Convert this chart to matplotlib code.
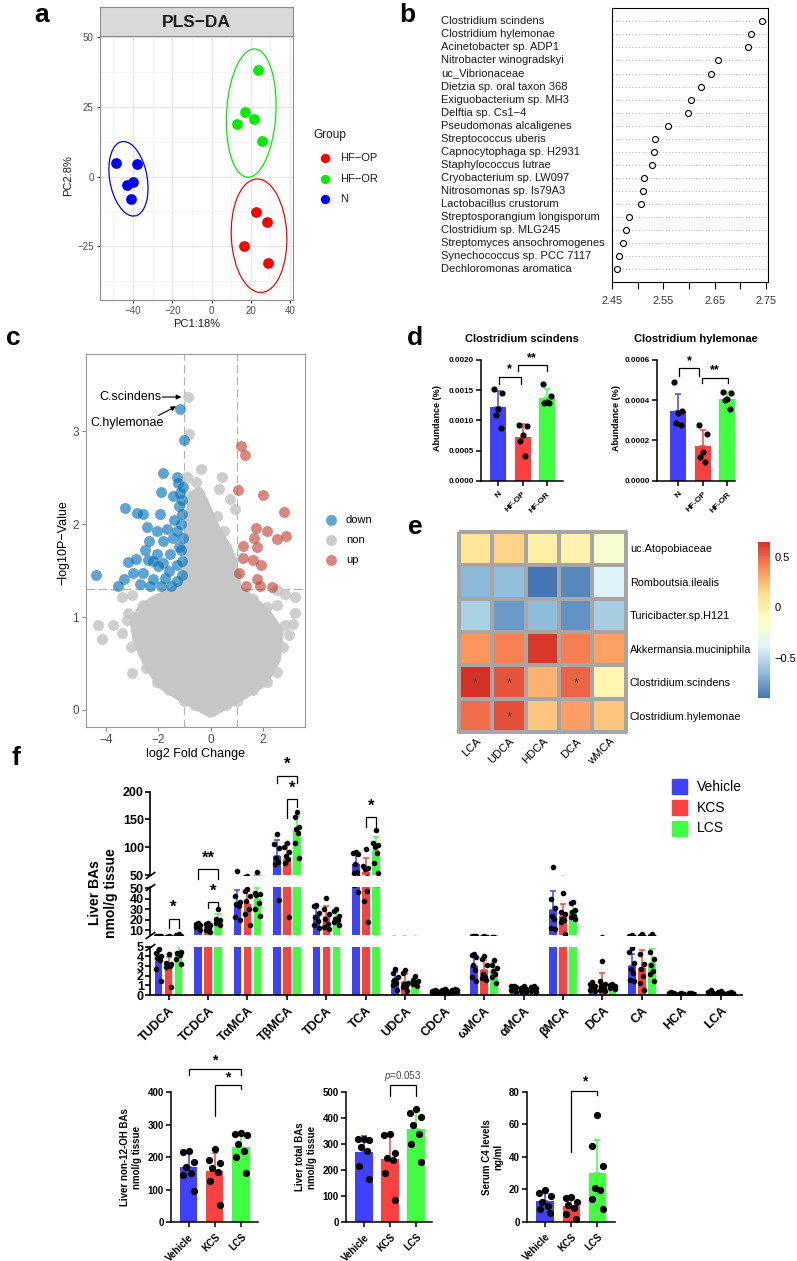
import numpy as np
import matplotlib
matplotlib.use('Agg')
import matplotlib.pyplot as plt
from matplotlib.patches import Ellipse, Rectangle, Polygon
from matplotlib.colors import LinearSegmentedColormap
from matplotlib.transforms import blended_transform_factory

plt.rcParams['font.family'] = ['Liberation Sans', 'DejaVu Sans']
plt.rcParams['mathtext.fontset'] = 'custom'
plt.rcParams['mathtext.it'] = 'Liberation Sans:italic'
plt.rcParams['mathtext.rm'] = 'Liberation Sans'

# ---------------- data: panel a (PLS-DA scores) ----------------
pls_groups = ['HF−OP', 'HF−OR', 'N']
pls_colors = ['#FF0000', '#00EE00', '#0000FF']
hfop_pc1 = [22.8, 28.4, 16.6, 29.0]
hfop_pc2 = [-12.7, -16.2, -25.0, -31.0]
hfor_pc1 = [23.9, 16.8, 21.4, 13.2, 25.8]
hfor_pc2 = [38.2, 23.2, 20.8, 19.0, 12.9]
n_pc1 = [-48.8, -38.1, -43.2, -40.2, -41.2]
n_pc2 = [4.75, 4.5, -2.9, -2.0, -8.2]

# ---------------- data: panel b (importance scores) ----------------
b_taxa = ['Clostridium scindens', 'Clostridium hylemonae', 'Acinetobacter sp. ADP1',
          'Nitrobacter winogradskyi', 'uc_Vibrionaceae', 'Dietzia sp. oral taxon 368',
          'Exiguobacterium sp. MH3', 'Delftia sp. Cs1−4', 'Pseudomonas alcaligenes',
          'Streptococcus uberis', 'Capnocytophaga sp. H2931', 'Staphylococcus lutrae',
          'Cryobacterium sp. LW097', 'Nitrosomonas sp. Is79A3', 'Lactobacillus crustorum',
          'Streptosporangium longisporum', 'Clostridium sp. MLG245',
          'Streptomyces ansochromogenes', 'Synechococcus sp. PCC 7117', 'Dechloromonas aromatica']
b_score = [2.742, 2.720, 2.715, 2.656, 2.643, 2.623, 2.604, 2.598, 2.558, 2.533,
           2.531, 2.528, 2.512, 2.510, 2.506, 2.483, 2.477, 2.472, 2.464, 2.460]

# ---------------- data: panel c (volcano) ----------------
down_fc = [-1.17, -1.02, -4.38, -3.54, -3.26, -2.82, -2.57, -1.83, -1.91, -1.30, -1.24, -1.45,
           -1.17, -1.11, -1.94, -1.11, -2.44, -2.06, -1.68, -1.30, -2.34, -1.81, -1.45, -2.51,
           -2.06, -1.55, -1.15, -3.15, -2.85, -2.38, -1.81, -1.30, -1.10, -3.31, -2.95, -2.57,
           -2.70, -2.19, -1.74, -1.30, -1.10, -2.30, -1.90, -1.50, -2.00, -1.60, -1.15, -1.05,
           -1.20, -2.20, -1.40, -1.05, -1.20]
down_p = [3.24, 2.91, 1.45, 1.34, 2.17, 2.12, 2.11, 2.55, 2.35, 2.51, 2.44, 2.30,
          2.34, 2.26, 2.11, 2.11, 1.97, 1.93, 1.95, 1.93, 1.82, 1.82, 1.85, 1.72,
          1.68, 1.68, 1.72, 1.59, 1.63, 1.61, 1.58, 1.56, 1.60, 1.41, 1.47, 1.47,
          1.36, 1.41, 1.42, 1.39, 1.45, 1.33, 1.33, 1.33, 1.55, 1.50, 2.00, 1.85,
          1.75, 1.60, 2.05, 2.40, 2.20]
up_fc = [1.15, 1.31, 1.05, 2.01, 2.80, 1.72, 2.14, 2.87, 2.54, 1.65, 1.76, 1.22, 1.24,
         1.63, 1.91, 1.09, 1.76, 1.34, 1.88, 2.33]
up_p = [2.84, 2.75, 2.37, 2.32, 2.13, 1.96, 1.93, 1.87, 1.84, 1.85, 1.75, 1.77, 1.64,
        1.61, 1.56, 1.48, 1.41, 1.34, 1.33, 1.32]
non_fc = [-0.88, -0.82, -0.38, 0.42, -0.92, -0.56, 0.33, 0.74, 0.94, 0.25, 0.51, -0.75,
          -0.70, -0.50, -0.30, 0.00, 0.20, 0.60, 0.85, 0.95, -0.60, -0.40, 0.10, 0.50,
          0.75, -0.85, 2.52, 3.22, 2.84, -3.40, -3.02, -2.57, -2.19, -3.15, -2.44, 1.63,
          2.14, 2.52, 3.22, -4.29, -4.14, -3.72, -3.40, -3.21, -3.04, -3.02, -2.76, -2.47,
          -2.57, -2.06, -2.57, 2.14, 2.52, 2.77, 3.00, 3.15, 2.84, 2.39, 2.01, 2.14,
          -1.60, -1.00, 1.00, 1.60, -0.60, 0.60]
non_p = [3.37, 2.97, 2.60, 2.51, 2.51, 2.45, 2.38, 2.27, 2.16, 2.09, 1.93, 2.30,
         2.15, 2.20, 2.00, 1.90, 1.80, 1.75, 1.60, 1.45, 1.90, 1.75, 1.60, 1.50,
         1.40, 1.70, 1.29, 1.22, 1.25, 1.22, 1.24, 1.13, 1.17, 1.04, 1.04, 1.20,
         1.11, 1.13, 1.04, 0.91, 0.76, 0.91, 0.83, 0.97, 0.68, 0.40, 0.99, 0.45,
         0.61, 0.30, 0.80, 0.30, 0.41, 0.68, 0.81, 0.93, 0.91, 0.61, 1.00, 0.83,
         0.22, 0.10, 0.10, 0.22, 0.05, 0.05]
# envelope of the dense non-significant cloud
non_core_fc = [0.0, -1.0, -1.9, -2.4, -2.8, -2.9, -2.6, -2.0, -1.4, -1.0, -0.85, -0.8, -0.7,
               -0.45, -0.2, 0.1, 0.4, 0.7, 0.9, 1.0, 1.5, 2.1, 2.6, 2.5, 2.0, 1.0]
non_core_p = [-0.03, 0.12, 0.28, 0.5, 0.75, 0.95, 1.1, 1.2, 1.28, 1.35, 1.6, 2.0, 2.3,
              2.35, 2.2, 2.0, 1.85, 1.7, 1.5, 1.3, 1.2, 1.05, 0.85, 0.55, 0.3, 0.12]

# ---------------- data: panel d ----------------
d_groups = ['N', 'HF-OP', 'HF-OR']
scin_vals = [[0.00152, 0.00146, 0.00119, 0.00109, 0.00088],
             [0.00093, 0.00091, 0.00076, 0.00065, 0.00041],
             [0.00161, 0.00141, 0.00130, 0.00129, 0.00128]]
hyle_vals = [[0.000490, 0.000347, 0.000335, 0.000289, 0.000277],
             [0.000278, 0.000232, 0.000145, 0.000118, 0.000095],
             [0.000443, 0.000435, 0.000405, 0.000400, 0.000355]]

# ---------------- data: panel e (correlation heatmap) ----------------
e_taxa = ['uc.Atopobiaceae', 'Romboutsia.ilealis', 'Turicibacter.sp.H121',
          'Akkermansia.muciniphila', 'Clostridium.scindens', 'Clostridium.hylemonae']
e_bas = ['LCA', 'UDCA', 'HDCA', 'DCA', 'wMCA']
e_corr = np.array([[0.10, 0.17, 0.00, -0.02, -0.20],
                   [-0.66, -0.64, -0.90, -0.83, -0.39],
                   [-0.56, -0.77, -0.65, -0.80, -0.57],
                   [0.36, 0.42, 0.63, 0.43, 0.33],
                   [0.65, 0.55, 0.28, 0.50, -0.05],
                   [0.48, 0.56, 0.22, 0.34, 0.22]])
e_sig = [(4, 0), (4, 1), (4, 3), (5, 1)]

# ---------------- data: panel f ----------------
f_groups = ['Vehicle', 'KCS', 'LCS']
f_colors = ['#4040FF', '#FF4040', '#40FF40']
f_bas = ['TUDCA', 'TCDCA', 'TαMCA', 'TβMCA', 'TDCA', 'TCA', 'UDCA', 'CDCA',
         'ωMCA', 'αMCA', 'βMCA', 'DCA', 'CA', 'HCA', 'LCA']
veh_pts = [[4.8, 4.3, 4.0, 3.8, 3.6, 2.7, 1.5], [16.5, 15.8, 15.2, 14.6, 14.0, 13.2, 10.0],
           [58, 42, 37, 35, 33, 22, 20], [124, 106, 98, 80, 74, 70, 39],
           [34, 33, 26, 22, 19, 15, 12], [91, 89, 87, 70, 55, 53, 46],
           [2.7, 2.3, 1.9, 1.6, 1.2, 1.0, 0.5], [0.55, 0.45, 0.4, 0.35, 0.3, 0.25, 0.2],
           [4.2, 4.1, 3.9, 3.1, 2.6, 1.9, 1.4], [0.9, 0.9, 0.8, 0.8, 0.7, 0.5, 0.3],
           [64, 40, 31, 23, 21, 12, 11], [1.3, 1.1, 0.9, 0.8, 0.6, 0.5, 0.4],
           [4.9, 4.4, 3.3, 2.7, 2.3, 1.6, 1.5], [0.3, 0.2, 0.2, 0.15, 0.1, 0.1, 0.1],
           [0.5, 0.3, 0.2, 0.2, 0.15, 0.1, 0.1]]
kcs_pts = [[4.2, 3.3, 3.2, 3.1, 3.0, 2.9, 0.8], [17.0, 16.0, 14.5, 13.0, 12.0, 10.5, 8.0],
           [49, 47, 42, 38, 30, 25, 15], [108, 100, 92, 84, 78, 71, 22],
           [41, 30, 25, 21, 16, 13, 11], [97, 66, 63, 60, 47, 38, 18],
           [2.6, 2.3, 1.2, 1.1, 0.9, 0.8, 0.4], [0.6, 0.5, 0.4, 0.35, 0.3, 0.2, 0.15],
           [4.0, 3.7, 3.1, 2.2, 1.9, 1.8, 1.6], [0.9, 0.7, 0.6, 0.5, 0.5, 0.4, 0.3],
           [45, 27, 25, 21, 20, 18, 6], [3.5, 1.5, 1.1, 0.9, 0.7, 0.5, 0.4],
           [5.8, 4.2, 3.2, 2.7, 2.0, 1.2, 0.5], [0.2, 0.15, 0.1, 0.1, 0.1, 0.1, 0.05],
           [0.4, 0.3, 0.25, 0.2, 0.15, 0.1, 0.1]]
lcs_pts = [[5.8, 5.7, 4.4, 4.3, 4.1, 3.7, 3.2], [30.5, 21.0, 19.5, 18.5, 17.5, 16.5, 15.0],
           [55, 45, 44, 43, 36, 30, 23], [163, 155, 137, 132, 126, 107, 80],
           [30, 28, 23, 21, 20, 18, 15], [131, 108, 104, 100, 89, 71, 54],
           [2.0, 1.6, 1.4, 1.3, 1.2, 1.1, 0.9], [0.65, 0.55, 0.5, 0.4, 0.4, 0.35, 0.3],
           [3.6, 3.1, 2.8, 2.5, 2.2, 1.9, 1.2], [0.9, 0.8, 0.7, 0.6, 0.5, 0.4, 0.3],
           [37, 36, 29, 27, 23, 22, 21], [1.1, 1.0, 0.9, 0.9, 0.8, 0.7, 0.6],
           [5.8, 4.4, 3.7, 3.1, 2.5, 2.2, 1.4], [0.25, 0.2, 0.15, 0.1, 0.1, 0.1, 0.05],
           [0.3, 0.25, 0.2, 0.2, 0.15, 0.1, 0.1]]

non12oh = [[220, 215, 185, 170, 150, 145, 96],
           [225, 192, 183, 166, 155, 128, 53],
           [273, 271, 268, 240, 218, 200, 152]]
total_bas = [[320, 318, 316, 290, 275, 215, 165],
             [339, 334, 265, 246, 240, 188, 86],
             [435, 420, 405, 372, 340, 300, 230]]
serum_c4 = [[19.5, 18.0, 16.0, 12.0, 9.5, 8.0, 5.6],
            [15.4, 14.6, 12.0, 10.5, 8.2, 5.0, 1.5],
            [66.0, 46.6, 34.6, 21.0, 19.5, 13.8, 7.6]]

# ---------------- figure helpers ----------------
W, H = 797, 1261
fig = plt.figure(figsize=(W / 100, H / 100), dpi=100)


def px_axes(x0, y0, x1, y1, **kw):
    return fig.add_axes([x0 / W, 1 - y1 / H, (x1 - x0) / W, (y1 - y0) / H], **kw)


JIT7 = np.array([0.0, -0.32, 0.32, -0.16, 0.16, -0.3, 0.3])
JIT5 = np.array([-0.25, 0.25, 0.0, -0.15, 0.15])


def prism_bars(ax, pos, groups, colors, width, ms, jit, clip=True):
    lo, hi = ax.get_ylim()
    for x, vals, c in zip(pos, groups, colors):
        vals = np.asarray(vals, dtype=float)
        m, sd = vals.mean(), vals.std(ddof=1)
        ax.bar(x, m, width, color=c, zorder=1)
        if m + sd > lo:
            ax.errorbar(x, m, yerr=[[0], [sd]], ecolor=c, elinewidth=1.1, capsize=2,
                        capthick=1.1, zorder=2, fmt='none')
        ax.plot(x + jit[:len(vals)] * width, vals, 'o', color='black', ms=ms,
                zorder=3, clip_on=clip)


def prism_style(ax, lw=1.2):
    for s in ['top', 'right']:
        ax.spines[s].set_visible(False)
    for s in ['left', 'bottom']:
        ax.spines[s].set_linewidth(lw)
    ax.tick_params(width=lw, length=3.5, direction='out')


def bracket(ax, x0, x1, ytop, yl, yr, label, ty, size=9, color='black', weight='bold'):
    ax.plot([x0, x0, x1, x1], [yl, ytop, ytop, yr], color='black', lw=0.9, clip_on=False)
    ax.text((x0 + x1) / 2, ty, label, ha='center', va='center', fontsize=size,
            color=color, fontweight=weight, clip_on=False)


# ================= panel a =================
axa = px_axes(100, 36, 293, 300)
axa.set_xlim(-56.8, 41.5)
axa.set_ylim(-44.3, 50.5)
axa.set_xticks([-40, -20, 0, 20, 40])
axa.set_yticks([-25, 0, 25, 50])
axa.set_xticks([-50, -30, -10, 10, 30], minor=True)
axa.set_yticks([-37.5, -12.5, 12.5, 37.5], minor=True)
axa.grid(True, which='major', color='#E6E6E6', lw=0.9)
axa.grid(True, which='minor', color='#F3F3F3', lw=0.6)
axa.set_axisbelow(True)
for s in axa.spines.values():
    s.set_color('#8C8C8C')
    s.set_linewidth(0.8)
axa.tick_params(which='major', length=2.5, color='#333333', labelsize=7,
                labelcolor='#4D4D4D', pad=2)
axa.tick_params(which='minor', length=0)
for xs, ys, c in zip([hfop_pc1, hfor_pc1, n_pc1], [hfop_pc2, hfor_pc2, n_pc2], pls_colors):
    axa.scatter(xs, ys, s=60, color=c, zorder=3, linewidths=0)
    cov = np.cov(xs, ys)
    vals, vecs = np.linalg.eigh(cov)
    ang = np.degrees(np.arctan2(vecs[1, 1], vecs[0, 1]))
    axa.add_patch(Ellipse((np.mean(xs), np.mean(ys)), 2 * 2.45 * np.sqrt(vals[1]),
                          2 * 2.45 * np.sqrt(vals[0]), angle=ang, fill=False,
                          ec=c, lw=0.9, zorder=2))
strip = px_axes(100, 7, 293, 36)
strip.set_facecolor('#D9D9D9')
strip.set_xticks([])
strip.set_yticks([])
for s in strip.spines.values():
    s.set_color('#8C8C8C')
    s.set_linewidth(0.8)
strip.text(0.5, 0.47, 'PLS−DA', ha='center', va='center', fontsize=12.5,
           fontweight='bold', color='#1A1A1A', transform=strip.transAxes)

# ================= panel b =================
axb = px_axes(611.7, 8.3, 768, 282.3)
rows = np.arange(1, len(b_taxa) + 1)
for r in rows:
    axb.axhline(r, color='#9A9A9A', ls=(0, (1, 3)), lw=0.6, zorder=1)
axb.plot(b_score, rows, 'o', mfc='white', mec='black', ms=4.3, mew=0.8, ls='none', zorder=2)
axb.set_ylim(21, 0)
axb.set_xlim(2.449, 2.754)
axb.set_yticks([])
axb.set_xticks([2.45, 2.50, 2.55, 2.60, 2.65, 2.70, 2.75])
axb.set_xticklabels(['2.45', '', '2.55', '', '2.65', '', '2.75'])
axb.tick_params(axis='x', length=5, width=0.8, labelsize=7.8, pad=5, labelcolor='#333333')
for s in axb.spines.values():
    s.set_linewidth(0.8)
tb = blended_transform_factory(axb.transAxes, axb.transData)
for r, name in zip(rows, b_taxa):
    axb.text(-1.092, r, name, transform=tb, ha='left', va='center', fontsize=8,
             color='#1A1A1A')

# ================= panel c =================
axc = px_axes(86, 354.3, 305, 726.7)
axc.set_xlim(-4.76, 3.6)
axc.set_ylim(-0.18, 3.83)
for xv in (-1, 1):
    axc.axvline(xv, color='#B0B0B0', ls=(0, (7, 4)), lw=0.8, zorder=0.5)
axc.axhline(-np.log10(0.05), color='#B0B0B0', ls=(0, (7, 4)), lw=0.8, zorder=0.5)
gray = '#C6C6C6'
axc.add_patch(Polygon(np.column_stack([non_core_fc, non_core_p]), closed=True, fc=gray,
                      ec=gray, lw=7, joinstyle='round', zorder=1))
axc.scatter(non_fc, non_p, s=62, color=gray, alpha=0.85, linewidths=0, zorder=1.5)
axc.scatter(down_fc, down_p, s=62, color='#0A74BA', alpha=0.65, linewidths=0, zorder=2)
axc.scatter(up_fc, up_p, s=62, color='#C0392B', alpha=0.6, linewidths=0, zorder=2)
axc.set_xticks([-4, -2, 0, 2])
axc.set_yticks([0, 1, 2, 3])
axc.tick_params(length=3, color='#8C8C8C', labelsize=8.5, labelcolor='#4D4D4D', pad=2)
for s in axc.spines.values():
    s.set_color('#9A9A9A')
    s.set_linewidth(0.8)
axc.text(-1.87, 3.37, 'C.scindens', ha='right', va='center', fontsize=9)
axc.annotate('', xy=(-1.12, 3.37), xytext=(-1.85, 3.37),
             arrowprops=dict(arrowstyle='-|>', color='black', lw=0.8, mutation_scale=7,
                             shrinkA=0, shrinkB=0))
axc.text(-4.6, 3.09, 'C.hylemonae', ha='left', va='center', fontsize=9)
axc.annotate('', xy=(-1.32, 3.27), xytext=(-2.0, 3.17),
             arrowprops=dict(arrowstyle='-|>', color='black', lw=0.8, mutation_scale=7,
                             shrinkA=0, shrinkB=0))

# ================= panel d =================
d_cols = f_colors
axd1 = px_axes(481, 360, 563, 480.7)
axd1.set_xlim(-0.715, 2.67)
axd1.set_ylim(0, 0.002)
prism_bars(axd1, [0, 1, 2], scin_vals, d_cols, 0.66, 3.4, JIT5)
axd1.set_yticks([0, 0.0005, 0.001, 0.0015, 0.002])
axd1.set_yticklabels(['0.0000', '0.0005', '0.0010', '0.0015', '0.0020'])
axd2 = px_axes(656.7, 360, 735, 480.7)
axd2.set_xlim(-0.88, 2.31)
axd2.set_ylim(0, 0.0006)
prism_bars(axd2, [0, 1, 2], hyle_vals, d_cols, 0.66, 3.4, JIT5)
axd2.set_yticks([0, 0.0002, 0.0004, 0.0006])
axd2.set_yticklabels(['0.0000', '0.0002', '0.0004', '0.0006'])
for ax, title in [(axd1, 'Clostridium scindens'), (axd2, 'Clostridium hylemonae')]:
    prism_style(ax, 1.1)
    ax.set_xticks([0, 1, 2])
    ax.set_xticklabels(d_groups, rotation=45, ha='right', rotation_mode='anchor',
                       fontsize=6, fontweight='bold')
    ax.tick_params(axis='y', labelsize=5.8, pad=1.5)
    for lab in ax.get_yticklabels():
        lab.set_fontweight('bold')
    ax.set_title(title, fontsize=8, fontweight='bold', pad=13)
bracket(axd1, 0.02, 0.93, 0.001712, 0.001596, 0.001596, '*', 0.00184)
bracket(axd1, 0.8, 2.0, 0.001916, 0.001821, 0.001821, '**', 0.00203)
bracket(axd2, 0.03, 0.86, 0.000559, 0.000521, 0.000521, '*', 0.000595)
bracket(axd2, 0.96, 2.02, 0.000509, 0.000485, 0.000485, '**', 0.000547)

# ================= panel e =================
cmap = LinearSegmentedColormap.from_list(
    'rdylbu', ['#4575B4', '#91BFDB', '#E0F3F8', '#FFFFBF', '#FEE090', '#FC8D59', '#D73027'])
axe = px_axes(459, 531.7, 625.7, 732.3)
mesh = axe.pcolormesh(e_corr, cmap=cmap, vmin=e_corr.min(), vmax=e_corr.max(),
                      edgecolors='#A6A6A6', linewidth=1.5)
mesh.set_clip_on(False)
axe.set_xlim(0, 5)
axe.set_ylim(6, 0)
for r, c in e_sig:
    axe.text(c + 0.5, r + 0.55, '*', ha='center', va='center', fontsize=9, color='#444444')
axe.set_xticks(np.arange(5) + 0.5)
axe.set_xticklabels(e_bas, rotation=45, ha='right', rotation_mode='anchor', fontsize=8)
axe.yaxis.tick_right()
axe.set_yticks(np.arange(6) + 0.5)
axe.set_yticklabels(e_taxa, fontsize=7.8)
axe.tick_params(length=0, pad=3)
for s in axe.spines.values():
    s.set_visible(False)
cax = px_axes(758.3, 541.7, 770, 698.3)
cb = fig.colorbar(mesh, cax=cax, ticks=[-0.5, 0, 0.5])
cb.outline.set_visible(False)
cb.ax.set_yticklabels(['−0.5', '0', '0.5'])
cb.ax.tick_params(length=0, labelsize=8, pad=3)

# ================= panel f (broken axis) =================
f_pos = np.arange(len(f_bas))
offs = [-0.254, 0.0, 0.254]
bw = 0.19
segs = [(px_axes(150, 791.7, 741.7, 875), (50, 200), [50, 100, 150, 200]),
        (px_axes(150, 886.5, 741.7, 935.3), (5, 51.5), [10, 20, 30, 40, 50]),
        (px_axes(150, 946.7, 741.7, 995), (0, 5), [0, 1, 2, 3, 4, 5])]
for ax, lim, ticks in segs:
    ax.set_xlim(-0.47, 14.53)
    ax.set_ylim(*lim)
    for gi, pts in enumerate([veh_pts, kcs_pts, lcs_pts]):
        prism_bars(ax, f_pos + offs[gi], pts, [f_colors[gi]] * len(f_bas), bw, 3.0, JIT7)
    ax.set_yticks(ticks)
    prism_style(ax, 1.2)
    ax.tick_params(axis='y', labelsize=9, pad=1)
    for lab in ax.get_yticklabels():
        lab.set_fontweight('bold')
ftop, fmid, fbot = [s[0] for s in segs]
for ax in (ftop, fmid):
    ax.spines['bottom'].set_visible(False)
    ax.set_xticks([])
fbot.set_xticks(f_pos)
fbot.set_xticklabels(f_bas, rotation=45, ha='right', rotation_mode='anchor',
                     fontsize=9, fontweight='bold')
mk = dict(marker=[(-1, -0.7), (1, 0.7)], ms=7, mew=1.2, color='black', ls='none',
          clip_on=False)
ftop.plot([0], [0], transform=ftop.transAxes, **mk)
fmid.plot([0, 0], [0, 1], transform=fmid.transAxes, **mk)
fbot.plot([0], [1], transform=fbot.transAxes, **mk)
# significance
bracket(fmid, 0.0, 0.254, 20.4, 11.6, 11.6, '*', 31.4, size=12)
bracket(ftop, 1 - 0.254, 1 + 0.254, 60.3, 42.3, 42.3, '**', 81, size=12)
bracket(fmid, 1.0, 1 + 0.254, 36.7, 31.4, 31.4, '*', 47.1, size=12)
bracket(ftop, 3 - 0.254, 3 + 0.254, 228.6, 215, 215, '*', 249, size=12)
bracket(ftop, 3.0, 3 + 0.254, 186.2, 153, 172.7, '*', 206, size=12)
bracket(ftop, 5.0, 5 + 0.254, 154.9, 136.9, 136.9, '*', 174, size=12)

# ================= panel f (summary bars) =================
small = [(px_axes(170.8, 1092, 258.3, 1222.3), non12oh, (0, 400), np.arange(0, 401, 100),
          (-0.68, 2.66)),
         (px_axes(345.7, 1092, 432.1, 1222.3), total_bas, (0, 500), np.arange(0, 501, 100),
          (-0.70, 2.62)),
         (px_axes(526.7, 1092, 615.2, 1221.7), serum_c4, (0, 80), np.arange(0, 81, 20),
          (-0.70, 2.68))]
for ax, vals, lim, ticks, xl in small:
    ax.set_ylim(*lim)
    ax.set_xlim(*xl)
    prism_bars(ax, [0, 1, 2], vals, f_colors, 0.66, 4.2, JIT7, clip=False)
    ax.set_yticks(ticks)
    prism_style(ax, 1.1)
    ax.set_xticks([0, 1, 2])
    ax.set_xticklabels(f_groups, rotation=45, ha='right', rotation_mode='anchor',
                       fontsize=7, fontweight='bold')
    ax.tick_params(axis='y', labelsize=7, pad=1.5)
    for lab in ax.get_yticklabels():
        lab.set_fontweight('bold')
s1, s2, s3 = [s[0] for s in small]
bracket(s1, 0.0, 2.0, 472, 452, 452, '*', 498, size=10)
bracket(s1, 1.0, 2.0, 420, 326, 409, '*', 445, size=10)
bracket(s2, 1.0, 2.0, 527, 486, 486, r'$p$=0.053', 560, size=7, color='#444444',
        weight='normal')
bracket(s3, 1.0, 2.0, 80.9, 43.2, 78.2, '*', 86.4, size=10)

# ================= overlay: titles, legends, panel letters =================
ov = fig.add_axes([0, 0, 1, 1], zorder=10)
ov.set_xlim(0, W)
ov.set_ylim(H, 0)
ov.axis('off')
ov.patch.set_alpha(0)

for lx, ly, letter in [(42, 15, 'a'), (407, 15, 'b'), (13, 338, 'c'), (415, 338, 'd'),
                       (415, 527, 'e'), (16, 758, 'f')]:
    ov.text(lx, ly, letter, ha='center', va='center', fontsize=19, fontweight='bold')

# panel a titles & legend
ov.text(68, 176, 'PC2:8%', rotation=90, ha='center', va='center', fontsize=8, color='#1A1A1A')
ov.text(197, 324, 'PC1:18%', ha='center', va='center', fontsize=8, color='#1A1A1A')
ov.text(313, 135, 'Group', ha='left', va='center', fontsize=8.5, color='#1A1A1A')
for i, (g, c) in enumerate(zip(pls_groups, pls_colors)):
    ov.scatter(325, 158 + 20.5 * i, s=45, color=c, linewidths=0)
    ov.text(340, 158 + 20.5 * i, g, ha='left', va='center', fontsize=8, color='#1A1A1A')

# panel c titles & legend
ov.text(63, 543, '−log10P−Value', rotation=90, ha='center', va='center', fontsize=9)
ov.text(196, 754, 'log2 Fold Change', ha='center', va='center', fontsize=9)
for i, (g, c, a) in enumerate([('down', '#0A74BA', 0.65), ('non', gray, 0.9),
                               ('up', '#C0392B', 0.6)]):
    ov.scatter(331, 520 + 20 * i, s=62, color=c, alpha=a, linewidths=0)
    ov.text(346, 520 + 20 * i, g, ha='left', va='center', fontsize=8)

# panel d y labels
for x in (437.7, 616.7):
    ov.text(x, 418, 'Abundance (%)', rotation=90, ha='center', va='center', fontsize=6.5,
            fontweight='bold')

# panel f labels and legend
ov.text(103, 893, 'Liver BAs\nnmol/g tissue', rotation=90, ha='center', va='center',
        fontsize=10, fontweight='bold', linespacing=1.15)
for i, (g, c) in enumerate(zip(f_groups, f_colors)):
    y = 786.7 + 20.8 * i
    ov.add_patch(Rectangle((672.5, y - 7.5), 15, 15, color=c))
    ov.text(697, y, g, ha='left', va='center', fontsize=10)
ov.text(131, 1157, 'Liver non-12-OH BAs\nnmol/g tissue', rotation=90, ha='center',
        va='center', fontsize=7, fontweight='bold', linespacing=1.15)
ov.text(306, 1157, 'Liver total BAs\nnmol/g tissue', rotation=90, ha='center',
        va='center', fontsize=7, fontweight='bold', linespacing=1.15)
ov.text(493, 1157, 'Serum C4 levels\nng/ml', rotation=90, ha='center',
        va='center', fontsize=7, fontweight='bold', linespacing=1.15)

fig.savefig('out.png', dpi=100)
